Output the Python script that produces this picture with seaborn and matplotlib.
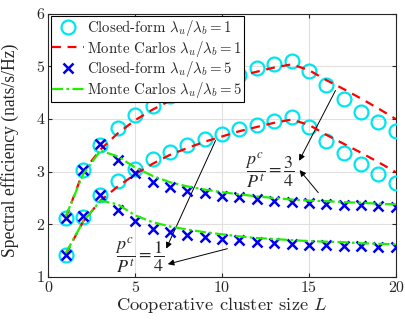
import numpy as np
import pandas as pd
import matplotlib
matplotlib.use("Agg")
import matplotlib.pyplot as plt
import seaborn as sns

# cluster sizes
L = list(range(1, 21))

# closed-form, lambda_u/lambda_b = 1 (p^c/P^t = 3/4 and 1/4)
cf1_hi = [2.12, 3.04, 3.51, 3.83, 4.07, 4.25, 4.43, 4.56, 4.65, 4.74, 4.84, 4.97, 5.04, 5.10,
          4.91, 4.64, 4.38, 4.13, 3.94, 3.78]
cf1_lo = [1.41, 2.14, 2.55, 2.82, 3.06, 3.24, 3.37, 3.50, 3.62, 3.72, 3.82, 3.89, 3.97, 4.03,
          3.85, 3.59, 3.35, 3.14, 2.95, 2.79]
# Monte Carlo, lambda_u/lambda_b = 1
mc1_hi = [2.12, 3.00, 3.42, 3.73, 3.98, 4.18, 4.35, 4.50, 4.62, 4.72, 4.82, 4.90, 4.98, 5.04,
          4.93, 4.74, 4.57, 4.39, 4.20, 4.00]
mc1_lo = [1.43, 2.05, 2.45, 2.72, 2.95, 3.15, 3.32, 3.45, 3.57, 3.67, 3.77, 3.85, 3.93, 3.99,
          3.89, 3.70, 3.53, 3.36, 3.18, 2.99]
# closed-form, lambda_u/lambda_b = 5
cf5_hi = [2.12, 3.04, 3.52, 3.23, 2.97, 2.80, 2.71, 2.64, 2.59, 2.54, 2.51, 2.48, 2.45, 2.42,
          2.41, 2.39, 2.37, 2.36, 2.34, 2.33]
cf5_lo = [1.41, 2.15, 2.55, 2.28, 2.06, 1.92, 1.85, 1.80, 1.76, 1.73, 1.70, 1.67, 1.65, 1.63,
          1.61, 1.60, 1.59, 1.58, 1.57, 1.56]
# Monte Carlo, lambda_u/lambda_b = 5
mc5_hi = [2.15, 2.95, 3.40, 3.29, 3.08, 2.92, 2.80, 2.72, 2.66, 2.61, 2.57, 2.53, 2.50, 2.47,
          2.45, 2.44, 2.42, 2.41, 2.39, 2.38]
mc5_lo = [1.45, 2.05, 2.45, 2.38, 2.17, 2.04, 1.96, 1.90, 1.85, 1.81, 1.77, 1.74, 1.72, 1.70,
          1.68, 1.67, 1.66, 1.64, 1.63, 1.62]

sns.set_style("ticks")
plt.rcParams["font.family"] = ["Liberation Serif", "DejaVu Serif"]
plt.rcParams["mathtext.fontset"] = "cm"

fig = plt.figure(figsize=(4.06, 3.22), dpi=100)
ax = fig.add_axes([0.119, 0.14, 0.856, 0.817])

handles = []
for y in [cf1_hi, cf1_lo]:
    sns.lineplot(x=L, y=y, ax=ax, linestyle="", marker="o", ms=10, mfc="none",
                 mec="#00e5ee", mew=1.6, zorder=3)
handles.append(ax.lines[-1])
for y in [mc1_hi, mc1_lo]:
    sns.lineplot(x=L, y=y, ax=ax, color="red", linestyle=(0, (4, 3)), lw=1.6, zorder=4)
handles.append(ax.lines[-1])
for y in [cf5_hi, cf5_lo]:
    sns.lineplot(x=L, y=y, ax=ax, linestyle="", marker="x", ms=7, mec="#0000ee",
                 mew=1.8, zorder=5)
handles.append(ax.lines[-1])
for y in [mc5_hi, mc5_lo]:
    sns.lineplot(x=L, y=y, ax=ax, color="#22ee00", linestyle=(0, (5, 1.5, 1.2, 1.5)),
                 lw=1.6, zorder=6)
handles.append(ax.lines[-1])

labels = [r"Closed-form $\lambda_u/\lambda_b=1$", r"Monte Carlos $\lambda_u/\lambda_b=1$",
          r"Closed-form $\lambda_u/\lambda_b=5$", r"Monte Carlos $\lambda_u/\lambda_b=5$"]
leg = ax.legend(handles, labels, loc="upper left",
                prop=dict(family="cmr10", size=10.7, math_fontfamily="cm"),
                frameon=True, fancybox=False,
                edgecolor="black", framealpha=1, borderpad=0.12, labelspacing=0.05,
                handlelength=2.1, handletextpad=0.2, borderaxespad=0.15)
leg.get_frame().set_linewidth(0.8)

ax.set_xlim(0, 20)
ax.set_ylim(1, 6)
ax.set_xticks([0, 5, 10, 15, 20])
ax.set_yticks([1, 2, 3, 4, 5, 6])
ax.grid(True, color="#e0e0e0", lw=0.8)
ax.tick_params(direction="in", labelsize=11.5, length=3, top=True, right=True, pad=3)
for lab in ax.get_xticklabels() + ax.get_yticklabels():
    lab.set_family("cmr10")
for s in ax.spines.values():
    s.set_linewidth(0.8)
ax.set_xlabel(r"Cooperative cluster size $L$", fontsize=13.3, labelpad=0,
              family="cmr10", math_fontfamily="cm")
ax.set_ylabel("Spectral efficiency (nats/s/Hz)", fontsize=12.7, labelpad=2)
ax.yaxis.set_label_coords(-0.085, 0.48)

aprops = dict(arrowstyle="-|>", color="black", lw=0.7, mutation_scale=9)
ax.text(12.76, 3.03, r"$\dfrac{p^c}{P^t}=\dfrac{3}{4}$", fontsize=13, ha="center", va="center",
        math_fontfamily="stix")
ax.annotate("", xy=(14.36, 3.16), xytext=(16.6, 4.59), arrowprops=aprops)
ax.annotate("", xy=(14.36, 3.07), xytext=(15.64, 2.56), arrowprops=aprops)
ax.text(5.28, 1.41, r"$\dfrac{p^c}{P^t}=\dfrac{1}{4}$", fontsize=13, ha="center", va="center",
        math_fontfamily="stix")
ax.annotate("", xy=(6.72, 1.49), xytext=(9.69, 3.64), arrowprops=aprops)
ax.annotate("", xy=(6.72, 1.23), xytext=(10.46, 1.55), arrowprops=aprops)

fig.savefig("out.png", dpi=100)
